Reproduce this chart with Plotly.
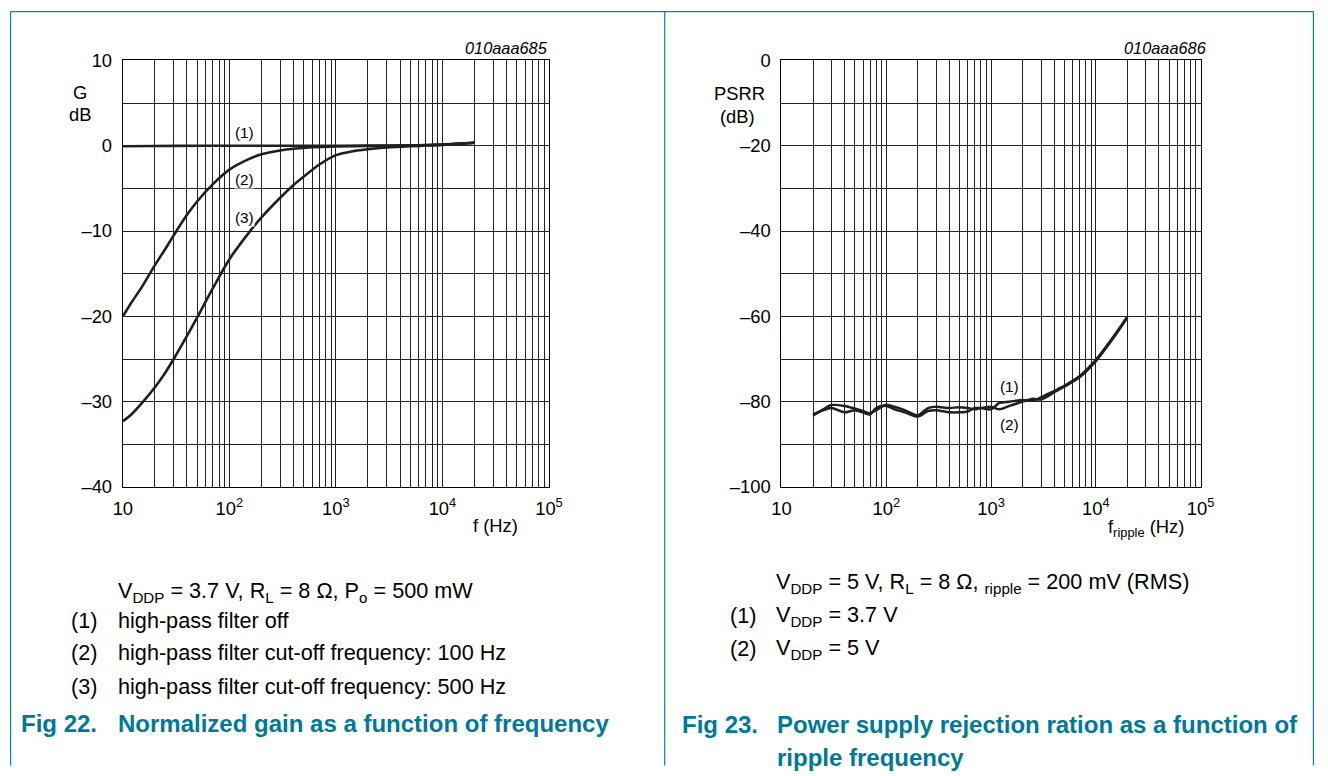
import plotly.graph_objects as go

W, H = 1328, 776

# ---------------- data: Fig 22 normalized gain ----------------
g_freq_1 = [10, 20, 50, 100, 200, 500, 1000, 2000, 5000, 8000, 12000, 16000, 20000]
g_gain_1 = [-0.05, -0.02, 0.0, 0.0, 0.0, 0.0, 0.0, 0.02, 0.05, 0.12, 0.2, 0.3, 0.35]

g_freq_2 = [10, 12, 15, 20, 25, 30, 40, 50, 70, 100, 150, 200, 300, 400, 600, 1000, 2000, 5000, 10000, 20000]
g_gain_2 = [-20.0, -18.4, -16.6, -14.0, -12.1, -10.5, -8.1, -6.5, -4.5, -2.8, -1.6, -1.0, -0.55, -0.35, -0.18,
            -0.08, -0.03, 0.03, 0.12, 0.35]

g_freq_3 = [10, 12, 15, 20, 25, 30, 40, 50, 70, 100, 150, 200, 300, 400, 500, 700, 1000, 1500, 2000, 3000,
            5000, 10000, 20000]
g_gain_3 = [-32.3, -31.5, -30.2, -28.3, -26.6, -25.0, -22.3, -20.1, -16.7, -13.3, -10.3, -8.4, -6.1, -4.6, -3.6,
            -2.2, -1.1, -0.6, -0.4, -0.2, -0.05, 0.1, 0.35]

# ---------------- data: Fig 23 PSRR ----------------
p_freq = [20, 25, 30, 40, 50, 60, 70, 80, 100, 120, 150, 200, 250, 300, 400, 500, 600, 700, 800,
          1000, 1200, 1500, 2000, 2500, 3000, 4000, 5000, 7000, 10000, 15000, 20000]
p_psrr_1 = [-83.3, -81.8, -80.8, -81.0, -81.6, -82.2, -82.7, -82.0, -80.7, -81.2, -82.0, -83.2, -81.5, -81.2,
            -81.5, -81.3, -81.5, -81.8, -81.5, -81.8, -80.3, -80.0, -79.6, -79.8, -79.0, -77.5, -76.3, -74.0,
            -70.2, -64.5, -60.0]
p_psrr_2 = [-83.0, -82.0, -81.5, -82.5, -82.0, -82.5, -83.0, -81.5, -81.0, -81.8, -82.5, -83.5, -82.2, -82.0,
            -82.5, -82.5, -82.3, -81.5, -81.5, -81.2, -81.8, -81.0, -80.0, -79.3, -79.5, -77.8, -76.5, -74.3,
            -70.5, -64.8, -60.3]

x_major = [10, 100, 1000, 10000, 100000]
x_labels = ["10", "10<sup>2</sup>", "10<sup>3</sup>", "10<sup>4</sup>", "10<sup>5</sup>"]
x_minor = [m * 10 ** d for d in range(1, 5) for m in range(2, 10)]

g_ticks = [10, 0, -10, -20, -30, -40]
g_ticklabels = ["10", "0", "–10", "–20", "–30", "–40"]
g_minor = [5, -5, -15, -25, -35]

p_ticks = [0, -20, -40, -60, -80, -100]
p_ticklabels = ["0", "–20", "–40", "–60", "–80", "–100"]
p_minor = [-10, -30, -50, -70, -90]

# ---------------- styling ----------------
FONT = "Liberation Sans, Arial, sans-serif"
TEAL_LINE = "#0083a8"
TEAL_TEXT = "#00789b"
CURVE = "#231f20"
GRID = "#222222"

# compensation for the capture (page -> picture mapping observed)
AX, SX = 8.9, 0.984
AY, SY = 9.5, 0.974
FS = 1 / 0.979


def px(x):
    v = (x - AX) / SX
    v = min(max(v, 0.6), W - 0.6)
    return v / W


def py(y):
    v = (y - AY) / SY
    v = min(max(v, 0.6), H - 0.6)
    return 1 - v / H


def f(s):
    return round(s * FS, 2)


fig = go.Figure()

for xs, ys in [(g_freq_1, g_gain_1), (g_freq_2, g_gain_2), (g_freq_3, g_gain_3)]:
    fig.add_trace(go.Scatter(x=xs, y=ys, mode="lines", xaxis="x", yaxis="y",
                             line=dict(color=CURVE, width=2.6, shape="spline", smoothing=0.8),
                             showlegend=False, hoverinfo="skip"))

for ys in [p_psrr_1, p_psrr_2]:
    fig.add_trace(go.Scatter(x=p_freq, y=ys, mode="lines", xaxis="x2", yaxis="y2",
                             line=dict(color=CURVE, width=2.5, shape="spline", smoothing=0.8),
                             showlegend=False, hoverinfo="skip"))


def xaxis(dom):
    return dict(type="log", range=[1, 5], domain=dom,
                tickvals=x_major, ticktext=x_labels, ticks="", ticklabelstandoff=5,
                showgrid=True, gridcolor=GRID, gridwidth=1,
                minor=dict(tickvals=x_minor, showgrid=True, gridcolor=GRID, gridwidth=1, ticks=""),
                showline=True, mirror=True, linecolor="black", linewidth=1.2,
                zeroline=False, tickfont=dict(family=FONT, size=f(18), color="black"),
                fixedrange=True)


def yaxis(dom, rng, tv, tt, mv, anchor):
    return dict(range=rng, domain=dom, anchor=anchor,
                tickvals=tv, ticktext=tt, ticks="", ticklabelstandoff=6,
                showgrid=True, gridcolor=GRID, gridwidth=1,
                minor=dict(tickvals=mv, showgrid=True, gridcolor=GRID, gridwidth=1, ticks=""),
                showline=True, mirror=True, linecolor="black", linewidth=1.2,
                zeroline=False, tickfont=dict(family=FONT, size=f(18), color="black"),
                fixedrange=True)


ydom = [py(486), py(59)]
fig.update_layout(
    width=W, height=H, margin=dict(l=0, r=0, t=0, b=0),
    paper_bgcolor="white", plot_bgcolor="white",
    font=dict(family=FONT, color="black"),
    xaxis=dict(**xaxis([px(122), px(549)]), anchor="y"),
    yaxis=yaxis(ydom, [-40, 10], g_ticks, g_ticklabels, g_minor, "x"),
    xaxis2=dict(**xaxis([px(782), px(1202)]), anchor="y2"),
    yaxis2=yaxis(ydom, [-100, 0], p_ticks, p_ticklabels, p_minor, "x2"),
)

ann = []


def txt(x, y, s, size=21.2, xanchor="left", color="black", bold=False, italic=False, bg=None):
    t = s
    if bold:
        t = "<b>" + t + "</b>"
    if italic:
        t = "<i>" + t + "</i>"
    d = dict(x=px(x), y=py(y), xref="paper", yref="paper", text=t, showarrow=False,
             xanchor=xanchor, yanchor="middle", font=dict(family=FONT, size=f(size), color=color))
    if bg:
        d["bgcolor"] = bg
        d["borderpad"] = 0
    ann.append(d)


# left chart texts
txt(550, 47, "010aaa685", size=16, xanchor="right", italic=True)
txt(79, 91, "G", size=18, xanchor="center")
txt(79, 113, "dB", size=18, xanchor="center")
txt(244, 131, "(1)", size=15, xanchor="center", bg="white")
txt(244, 178, "(2)", size=15, xanchor="center", bg="white")
txt(244, 216, "(3)", size=15, xanchor="center", bg="white")
txt(495, 525, "f (Hz)", size=18, xanchor="center")

# right chart texts
txt(1210, 47, "010aaa686", size=16, xanchor="right", italic=True)
txt(740, 92, "PSRR", size=18, xanchor="center")
txt(738, 115, "(dB)", size=18, xanchor="center")
txt(1011, 385, "(1)", size=15, xanchor="center", bg="white")
txt(1011, 423, "(2)", size=15, xanchor="center", bg="white")
txt(1187, 527, "f<sub>ripple</sub> (Hz)", size=18, xanchor="right")

# left notes
txt(115, 591, "V<sub>DDP</sub> = 3.7 V, R<sub>L</sub> = 8 Ω, P<sub>o</sub> = 500 mW")
txt(68, 620, "(1)")
txt(115, 620, "high-pass filter off")
txt(68, 652, "(2)")
txt(115, 652, "high-pass filter cut-off frequency: 100 Hz")
txt(68, 686, "(3)")
txt(115, 686, "high-pass filter cut-off frequency: 500 Hz")
txt(18, 723, "Fig 22.", size=23.5, color=TEAL_TEXT, bold=True)
txt(115, 723, "Normalized gain as a function of frequency", size=23.5, color=TEAL_TEXT, bold=True)

# right notes
txt(775, 582, "V<sub>DDP</sub> = 5 V, R<sub>L</sub> = 8 Ω, <sub>ripple</sub> = 200 mV (RMS)")
txt(728, 615, "(1)")
txt(775, 615, "V<sub>DDP</sub> = 3.7 V")
txt(728, 648, "(2)")
txt(775, 648, "V<sub>DDP</sub> = 5 V")
txt(680, 724, "Fig 23.", size=23.5, color=TEAL_TEXT, bold=True)
txt(776, 724, "Power supply rejection ration as a function of", size=23.5, color=TEAL_TEXT, bold=True)
txt(776, 757, "ripple frequency", size=23.5, color=TEAL_TEXT, bold=True)

fig.update_layout(annotations=ann)

shapes = []
for (x0, y0, x1, y1) in [(5, 7, 1323, 7), (5, 7, 5, 790), (665, 7, 665, 790), (1323, 7, 1323, 790)]:
    shapes.append(dict(type="line", xref="paper", yref="paper", x0=px(x0), y0=py(y0), x1=px(x1), y1=py(y1),
                       line=dict(color=TEAL_LINE, width=1.2)))
fig.update_layout(shapes=shapes)

fig.write_html("out.html", config={"displayModeBar": False},
               post_script="document.body.style.margin='0px';document.body.style.overflow='hidden';")
